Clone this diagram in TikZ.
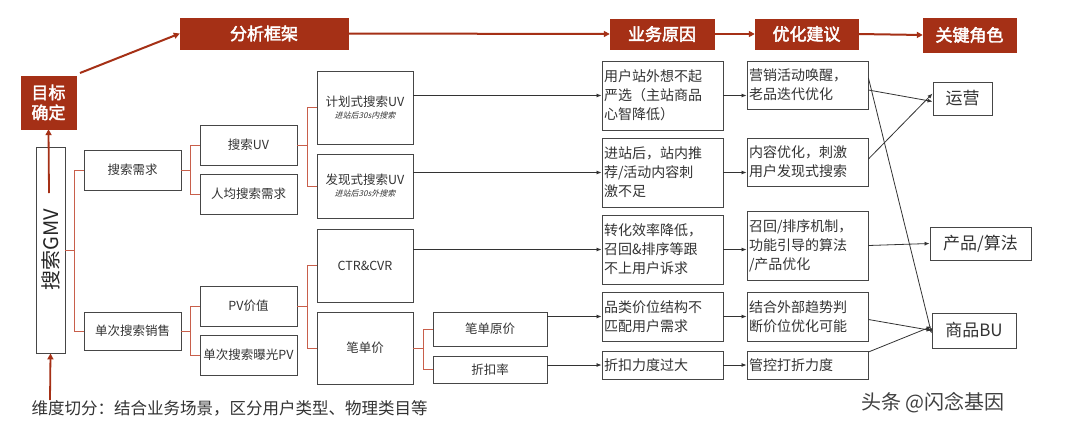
\documentclass[tikz,border=0pt]{standalone}
\usepackage{fontspec}
\setmainfont{Noto Sans CJK SC}
\newfontfamily\cjkit[FakeSlant=0.25]{Noto Sans CJK SC}
\newfontfamily\hdrfont[FakeBold=2.5]{Noto Sans CJK SC}
\usetikzlibrary{arrows.meta}
\definecolor{hred}{RGB}{165,48,22}
\definecolor{tred}{RGB}{200,95,75}
\definecolor{bx}{RGB}{70,70,70}
\begin{document}
\begin{tikzpicture}[x=1pt,y=-1pt,
 hdr/.style={fill=hred,text=white,font=\hdrfont\fontsize{17}{20}\selectfont,inner sep=0pt,draw=hred},
 box/.style={draw=bx,line width=0.9pt,inner sep=2pt,font=\fontsize{12.5}{14}\selectfont,text=black!80},
 rbox/.style={box,text width=117pt,align=left,font=\fontsize{14}{19}\selectfont,inner sep=2pt},
 role/.style={box,font=\fontsize{17}{19}\selectfont},
 tr/.style={tred,line width=0.9pt},
 ha/.style={hred,line width=2pt,-{Triangle[length=6pt,width=6pt]}},
 arr/.style={black!80,line width=0.8pt,-{Latex[length=5pt,width=4pt]}}]
\useasboundingbox (0,0) rectangle (1080,429);
\fill[white] (0,0) rectangle (1080,429);
% headers
\node[hdr,minimum width=55pt,minimum height=53pt,align=center] (goal) at (48.5,102.5) {目标\\确定};
\node[hdr,minimum width=168pt,minimum height=31pt] (h1) at (264,33.5) {分析框架};
\node[hdr,minimum width=104pt,minimum height=30pt] (h2) at (662,34) {业务原因};
\node[hdr,minimum width=103pt,minimum height=30pt] (h3) at (806.5,34) {优化建议};
\node[hdr,minimum width=93pt,minimum height=34pt] (h4) at (969.5,35) {关键角色};
\coordinate (g1) at (80,73);
\draw[ha] (g1) -- (h1.west);
\draw[ha] (h1.east) -- (h2.west);
\draw[ha] (h2.east) -- (h3.west);
\draw[ha] (h3.east) -- (h4.west);
% tree
\node[box,minimum width=29pt,minimum height=206pt] (gmv) at (50.5,250) {};
\node[rotate=90,font=\fontsize{20}{22}\selectfont,text=black!85] (gmvt) at (50.5,250) {搜索GMV};
\node[box,minimum width=97pt,minimum height=40pt] (a1) at (132.5,170) {搜索需求};
\node[box,minimum width=97pt,minimum height=38pt] (a2) at (132.5,331) {单次搜索销售};
\node[box,minimum width=97pt,minimum height=40pt] (b1) at (248.5,145) {搜索UV};
\node[box,minimum width=97pt,minimum height=40pt] (b2) at (248.5,194) {人均搜索需求};
\node[box,minimum width=97pt,minimum height=40pt] (b3) at (248.5,306) {PV价值};
\node[box,minimum width=97pt,minimum height=40pt] (b4) at (248.5,355) {单次搜索曝光PV};
\node[box,minimum width=96pt,minimum height=73pt,align=center] (c1) at (365,107.5) {计划式搜索UV\\[-2pt]{\cjkit\fontsize{8}{9}\selectfont 进站后30s内搜索}};
\node[box,minimum width=96pt,minimum height=64pt,align=center] (c2) at (365,186) {发现式搜索UV\\[-2pt]{\cjkit\fontsize{8}{9}\selectfont 进站后30s外搜索}};
\node[box,minimum width=96pt,minimum height=73pt] (c3) at (365,265.5) {CTR\&CVR};
\node[box,minimum width=96pt,minimum height=72pt] (c4) at (365,348) {笔单价};
\node[box,minimum width=114pt,minimum height=34pt] (d1) at (490,329) {笔单原价};
\node[box,minimum width=114pt,minimum height=27pt] (d2) at (490,369.5) {折扣率};
\draw[tr] (gmv.east) -- ++(9,0) coordinate (t0);
\draw[tr] (a1.west) -| (t0) |- (a2.west);
\draw[tr] (a1.east) -- ++(9,0) coordinate (t1);
\draw[tr] (b1.west) -| (t1) |- (b2.west);
\draw[tr] (a2.east) -- ++(9,0) coordinate (t2);
\draw[tr] (b3.west) -| (t2) |- (b4.west);
\draw[tr] (b1.east) -- ++(10,0) coordinate (t3);
\draw[tr] (c1.west) -| (t3) |- (c2.west);
\draw[tr] (b3.east) -- ++(10,0) coordinate (t4);
\draw[tr] (c3.west) -| (t4) |- (c4.west);
\draw[tr] (c4.east) -- ++(10,0) coordinate (t5);
\draw[tr] (d1.west) -| (t5) |- (d2.west);
% vertical red arrows
\coordinate (gm1) at (49,193);
\draw[ha,line width=1.8pt] (gm1) -- (goal.south);
\node[font=\fontsize{16.5}{18}\selectfont,text=black!80,anchor=west] (note) at (28,408) {维度切分：结合业务场景，区分用户类型、物理类目等};
\coordinate (n1) at (50,400);
\draw[ha,line width=1.8pt] (n1) -- (gmv.south);
% reasons
\node[rbox,minimum height=69pt] (r1) at (662.5,95.5) {用户站外想不起\\严选（主站商品\\心智降低）};
\node[rbox,minimum height=69pt] (r2) at (662.5,172.5) {进站后，站内推\\荐/活动内容刺\\激不足};
\node[rbox,minimum height=69pt] (r3) at (662.5,249.5) {转化效率降低，\\召回\&排序等跟\\不上用户诉求};
\node[rbox,minimum height=49pt] (r4) at (662.5,316.5) {品类价位结构不\\匹配用户需求};
\node[rbox,minimum height=28pt] (r5) at (662.5,365) {折扣力度过大};
\node[rbox,minimum height=48pt] (s1) at (807.5,85) {营销活动唤醒，\\老品迭代优化};
\node[rbox,minimum height=48pt] (s2) at (807.5,162) {内容优化，刺激\\用户发现式搜索};
\node[rbox,minimum height=69pt] (s3) at (807.5,245.5) {召回/排序机制，\\功能引导的算法\\/产品优化};
\node[rbox,minimum height=49pt] (s4) at (807.5,316.5) {结合外部趋势判\\断价位优化可能};
\node[rbox,minimum height=28pt] (s5) at (807.5,365) {管控打折力度};
\node[role,minimum width=59pt,minimum height=33pt] (o1) at (962.5,98.5) {运营};
\node[role,minimum width=101pt,minimum height=33pt] (o2) at (980.5,243.5) {产品/算法};
\node[role,minimum width=84pt,minimum height=35pt] (o3) at (974,330.5) {商品BU};
\draw[arr] (r1.west -| c1.east) -- (r1.west);
\draw[arr] (r2.west -| c2.east) -- (r2.west);
\draw[arr] (r3.west -| c3.east) -- (r3.west);
\draw[arr] (r4.west -| d1.east) -- (r4.west);
\draw[arr] (r5.west -| d2.east) -- (r5.west);
\draw[arr] (r1.east) -- (s1.west |- r1.east);
\draw[arr] (r2.east) -- (s2.west |- r2.east);
\draw[arr] (r3.east) -- (s3.west |- r3.east);
\draw[arr] (r4.east) -- (s4.west |- r4.east);
\draw[arr] (r5.east) -- (s5.west |- r5.east);
\draw[arr] ([yshift=-5pt]s1.east) -- ([yshift=-3pt]o1.west);
\draw[arr] ([yshift=3pt]s2.east) -- ([yshift=5pt]o1.west);
\draw[arr] ([yshift=7pt]s1.east) -- ([yshift=-3pt]o3.west);
\draw[arr] (s3.east) -- (o2.west);
\draw[arr] ([yshift=-3pt]s4.east) -- (o3.west);
\draw[arr] ([yshift=13pt]s5.east) -- ([yshift=4pt]o3.west);
\node[font=\fontsize{20}{22}\selectfont,text=black!75,anchor=west] (wm) at (858,403) {头条 @闪念基因};
\end{tikzpicture}
\end{document}
